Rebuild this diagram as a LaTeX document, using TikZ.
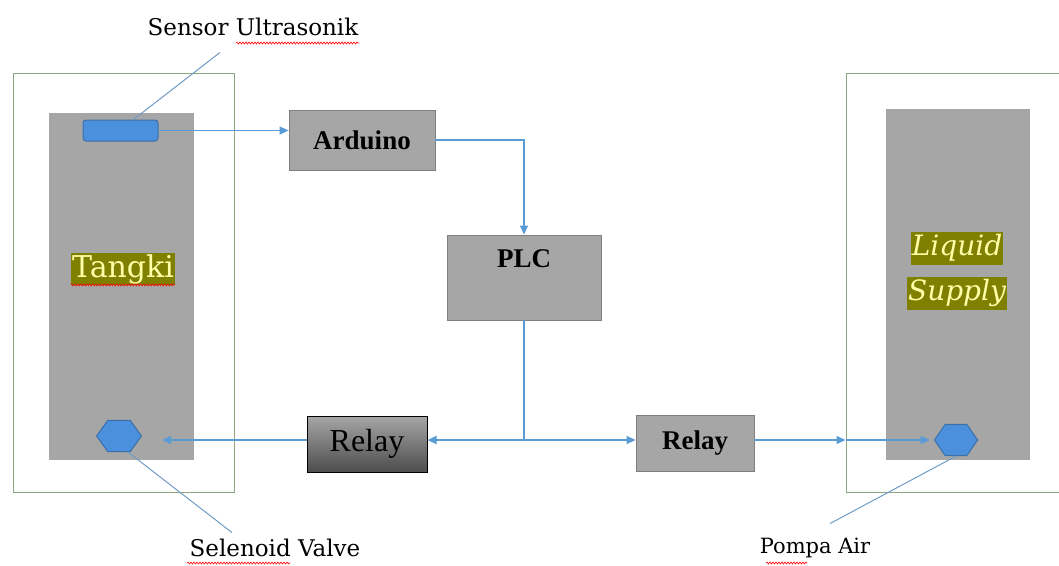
\documentclass[tikz,border=0pt]{standalone}
\usepackage{fontspec}
\setmainfont{Liberation Serif}
\newfontfamily\slabfont{DejaVu Serif}
\usetikzlibrary{positioning,shapes.geometric,arrows.meta,decorations.pathmorphing,calc}
\definecolor{tankgray}{HTML}{A6A6A6}
\definecolor{edgegray}{HTML}{7F7F7F}
\definecolor{framegreen}{HTML}{8EA67E}
\definecolor{wireblue}{HTML}{5B9BD5}
\definecolor{partblue}{HTML}{4A90DC}
\definecolor{partedge}{HTML}{3C6FA8}
\definecolor{leadblue}{HTML}{6E9CC6}
\definecolor{olivemark}{HTML}{7F7F00}
\definecolor{creamtext}{HTML}{FFFFA8}

\begin{document}
\begin{tikzpicture}[x=1pt,y=-1pt,
    outer/.style={draw=framegreen, line width=1pt, inner sep=0},
    tank/.style={fill=tankgray, inner sep=0},
    block/.style={
      draw=edgegray,
      fill=tankgray,
      line width=0.8pt,
      inner sep=0,
      font=\fontsize{27}{31}\selectfont\bfseries,
    },
    sensorbox/.style={
      fill=partblue,
      draw=partedge,
      line width=1pt,
      rounded corners=3pt,
      minimum width=75,
      minimum height=21,
      inner sep=0,
    },
    valve/.style={
      regular polygon,
      regular polygon sides=6,
      minimum size=36pt,
      inner sep=0,
      fill=partblue,
      draw=partedge,
      line width=1pt,
    },
    hilite/.style={fill=olivemark, text=creamtext, inner xsep=1pt, inner ysep=1pt},
    tag/.style={font=\slabfont\fontsize{23}{27}\selectfont},
    wire/.style={draw=wireblue, line width=1.2pt, -{Triangle[length=9pt,width=8pt]}},
    lead/.style={draw=leadblue, line width=1pt},
    squiggle/.style={draw=red, line width=0.6pt, decorate,
      decoration={snake, amplitude=1pt, segment length=3pt}},
  ]
  \useasboundingbox (0,0) rectangle (1059,565);

  \node[outer, minimum width=221, minimum height=419] (leftframe) at (123.5,282.5) {};
  \node[tank, minimum width=145, minimum height=347] (tangki) at (121.5,286.5) {};
  \node[hilite, font=\slabfont\fontsize{30}{34}\selectfont] (tangkilbl) at (123,269) {Tangki};
  \node[sensorbox] (sensor) at (120.5,130.5) {};
  \node[valve, xscale=1.25] (valve1) at (119,436) {};

  \node[outer, minimum width=213, minimum height=419] (rightframe) at (952.5,282.5) {};
  \node[tank, minimum width=144, minimum height=351] (supply) at (958,284.5) {};
  \node[hilite, font=\slabfont\itshape\fontsize{28}{32}\selectfont, text height=23pt, text depth=8pt]
    (liquidlbl) at (957,248) {Liquid};
  \node[hilite, font=\slabfont\itshape\fontsize{28}{32}\selectfont, text height=23pt, text depth=8pt]
    (supplylbl) at (957,293) {Supply};
  \node[valve, xscale=1.2] (pump) at (956,440) {};

  \node[block, minimum width=146, minimum height=60] (arduino) at (362,140) {Arduino};
  \node[block, minimum width=154, minimum height=85,
    label={[font=\fontsize{27}{31}\selectfont\bfseries, anchor=north, yshift=-11pt]north:PLC}]
    (plc) at (524,277.5) {};
  \node[draw=black, line width=1pt, top color=tankgray, bottom color=black!70,
    minimum width=120, minimum height=56, inner sep=0,
    font=\fontsize{32}{37}\selectfont] (relay1) at (367,444) {Relay};
  \node[block, minimum width=118, minimum height=56] (relay2) at (695,443) {Relay};
  \coordinate (junc) at (524,440);

  \node[tag] (sensorlbl) at (253,27) {Sensor Ultrasonik};
  \node[tag] (valvelbl) at (275,548) {Selenoid Valve};
  \node[tag, font=\slabfont\fontsize{21}{25}\selectfont] (pumplbl) at (815,548) {Pompa Air};

  \draw[wire] (sensor.east) -- (sensor.east -| arduino.west);
  \draw[wire] (arduino.east) -| (plc.north);
  \draw[wire, -] (plc.south) -- (junc);
  \draw[wire, line width=2.2pt] (junc) -- (junc -| relay1.east);
  \draw[wire] (junc) -- (junc -| relay2.west);
  \draw[wire, shorten >=20pt] (relay1.west |- junc) -- (valve1.east |- junc);
  \draw[wire] (relay2.east |- junc) -- (rightframe.west |- junc);
  \draw[wire, shorten >=4pt] (rightframe.west |- junc) -- (pump.west);

  \draw[lead] ([shift={(-33,13)}]sensorlbl.south) -- ([xshift=13pt]sensor.north);
  \draw[lead] ([xshift=9pt]valve1.south) -- ([shift={(-43,-3)}]valvelbl.north);
  \draw[lead] (pump.south) -- ([shift={(15,-11)}]pumplbl.north);

  \draw[squiggle] (236,43) -- (359,43);
  \draw[squiggle] (tangkilbl.south west) -- (tangkilbl.south east);
  \draw[squiggle] (187,563) -- (290,563);
  \draw[squiggle] (766,563) -- (807,563);
\end{tikzpicture}
\end{document}
